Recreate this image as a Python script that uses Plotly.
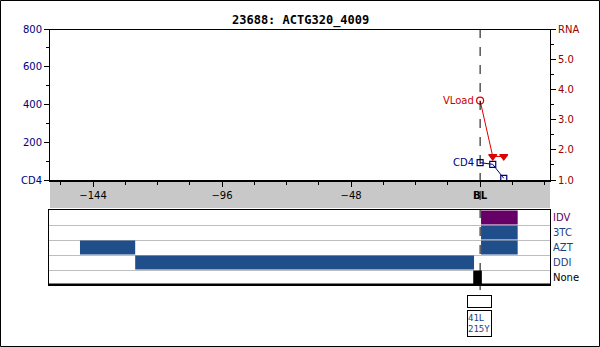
import plotly.graph_objects as go

W, H = 600, 347

# ---- data ----
title_text = "23688: ACTG320_4009"
x_ticks = [-144, -96, -48, 0]
x_ticktext = ["\u2212144", "\u221296", "\u221248", "<b>BL</b>"]

cd4_x = [0, 4.7, 8.8]
cd4_y = [92, 83, 9]

vl_x = [0, 4.7, 8.8]
vl_y = [3.63, 1.78, 1.78]
vl_symbol = ["circle-open", "triangle-down", "triangle-down"]

drug_rows = ["None", "DDI", "AZT", "3TC", "IDV"]
drug_colors = {"None": "#000000", "DDI": "#1F4E8A", "AZT": "#1F4E8A",
               "3TC": "#1F4E8A", "IDV": "#660066"}
label_colors = {"None": "#000000", "DDI": "#1F3F7F", "AZT": "#1F3F7F",
                "3TC": "#1F3F7F", "IDV": "#660066"}
seg_drug = ["AZT", "DDI", "None", "IDV", "3TC", "AZT"]
seg_start = [-148.5, -128.0, -2.5, 0.4, 0.4, 0.4]
seg_end = [-128.0, -2.2, 0.7, 14.0, 14.0, 14.0]

mutation_x = 0
mutation_text = "41L<br>215Y"


def fx(px):
    return px / W


def fy(py):
    return 1 - py / H


FONT = "DejaVu Sans"
NAVY = "#000080"
MAROON = "#990000"
RED = "#DD0000"

fig = go.Figure()

# CD4 series
fig.add_trace(go.Scatter(
    x=cd4_x, y=cd4_y, mode="lines+markers", xaxis="x", yaxis="y",
    line=dict(color=NAVY, width=1),
    marker=dict(symbol="square-open", size=6, color=NAVY, line=dict(width=1.2)),
    showlegend=False, hoverinfo="skip"))

# Viral load series
fig.add_trace(go.Scatter(
    x=vl_x, y=vl_y, mode="lines+markers", xaxis="x", yaxis="y2",
    line=dict(color=RED, width=1),
    marker=dict(symbol=vl_symbol, size=7, color=RED, line=dict(width=1.2, color=RED)),
    showlegend=False, hoverinfo="skip"))

# Treatment bars
for d, s, e in zip(seg_drug, seg_start, seg_end):
    fig.add_trace(go.Bar(
        y=[drug_rows.index(d)], x=[e - s], base=[s], orientation="h",
        xaxis="x2", yaxis="y3", width=0.92,
        marker=dict(color=drug_colors[d], line=dict(width=0)),
        showlegend=False, hoverinfo="skip"))

shapes = [
    # outer frame
    dict(type="rect", xref="paper", yref="paper", x0=fx(0.5), x1=fx(599.5),
         y0=fy(346.5), y1=fy(0.5), line=dict(color="black", width=1)),
    # grey band under the time axis
    dict(type="rect", xref="paper", yref="paper", x0=fx(50), x1=fx(550),
         y0=fy(208), y1=fy(180), fillcolor="#C8C8C8", line=dict(width=0),
         layer="below"),
    # top border of upper panel
    dict(type="line", xref="paper", yref="paper", x0=fx(50), x1=fx(550),
         y0=fy(29.5), y1=fy(29.5), line=dict(color="black", width=1)),
    # baseline dashed line
    dict(type="line", xref="x", yref="paper", x0=0, x1=0,
         y0=fy(29), y1=fy(295), line=dict(color="black", width=1, dash="dash")),
    # bottom panel thicker bottom line
    dict(type="line", xref="paper", yref="paper", x0=fx(49), x1=fx(550.5),
         y0=fy(284.5), y1=fy(284.5), line=dict(color="black", width=2)),
]

annotations = [
    dict(text="<b>" + title_text + "</b>", xref="paper", yref="paper",
         x=fx(300), y=fy(20), showarrow=False, xanchor="center", yanchor="middle",
         font=dict(family="DejaVu Sans Mono", size=12, color="black")),
    # series labels
    dict(text="CD4", xref="x", yref="y", x=cd4_x[0], y=cd4_y[0],
         xanchor="right", yanchor="middle", xshift=-4, showarrow=False,
         font=dict(family=FONT, size=10, color=NAVY)),
    dict(text="VLoad", xref="x", yref="y2", x=vl_x[0], y=vl_y[0],
         xanchor="right", yanchor="middle", xshift=-4, showarrow=False,
         font=dict(family=FONT, size=10, color="#CC0000")),
    # empty mutation box
    dict(text=" ", xref="x2", yref="paper", x=mutation_x, y=fy(295),
         xanchor="center", yanchor="top", showarrow=False, width=23, height=11,
         bordercolor="black", borderwidth=1, borderpad=0, bgcolor="white",
         font=dict(size=6)),
    # mutation list box
    dict(text=mutation_text, xref="x2", yref="paper", x=mutation_x, y=fy(310),
         xanchor="center", yanchor="top", showarrow=False, align="left",
         width=23, height=25, bordercolor="black", borderwidth=1, borderpad=0,
         bgcolor="white",
         font=dict(family="DejaVu Sans Mono", size=9, color="#1F3F7F")),
]

fig.update_layout(
    width=W, height=H, margin=dict(l=0, r=0, t=0, b=0),
    paper_bgcolor="white", plot_bgcolor="white", barmode="overlay",
    font=dict(family=FONT, size=10, color="black"),
    shapes=shapes, annotations=annotations,
    xaxis=dict(domain=[fx(50), fx(550)], range=[-160, 26], anchor="y",
               tickvals=x_ticks, ticktext=x_ticktext, ticks="outside",
               ticklen=5, tickcolor="black", tickwidth=1,
               minor=dict(dtick=12, tick0=0, ticks="outside", ticklen=3,
                          tickcolor="black", showgrid=False),
               showline=True, linecolor="black", linewidth=2,
               showgrid=False, zeroline=False, automargin=False,
               tickfont=dict(family=FONT, size=10, color="black")),
    yaxis=dict(domain=[fy(180), fy(29)], range=[0, 800], anchor="x",
               tickvals=[0, 200, 400, 600, 800],
               ticktext=["CD4", "200", "400", "600", "800"],
               ticks="outside", ticklen=5, tickcolor="black",
               minor=dict(tickvals=[100, 300, 500, 700], ticks="outside",
                          ticklen=3, tickcolor="black", showgrid=False),
               showline=True, linecolor="black", linewidth=1,
               showgrid=False, zeroline=False, automargin=False,
               tickfont=dict(family=FONT, size=10, color=NAVY)),
    yaxis2=dict(domain=[fy(180), fy(29)], range=[1, 6], anchor="x",
                overlaying="y", side="right",
                tickvals=[1, 2, 3, 4, 5, 6],
                ticktext=["1.0", "2.0", "3.0", "4.0", "5.0", "RNA"],
                ticks="outside", ticklen=5, tickcolor="black",
                minor=dict(tickvals=[1.5, 2.5, 3.5, 4.5, 5.5], ticks="outside",
                           ticklen=3, tickcolor="black", showgrid=False),
                showline=True, linecolor="black", linewidth=1,
                showgrid=False, zeroline=False, automargin=False,
                tickfont=dict(family=FONT, size=10, color=MAROON)),
    xaxis2=dict(domain=[fx(49), fx(550)], range=[-160, 26], anchor="y3",
                showticklabels=False, ticks="", showline=True, mirror=True,
                linecolor="black", linewidth=1, showgrid=False,
                zeroline=False, automargin=False),
    yaxis3=dict(domain=[fy(285), fy(210)], range=[-0.5, 4.5], anchor="x2",
                side="right", tickvals=list(range(len(drug_rows))),
                ticktext=['<span style="color:%s">%s</span>' % (label_colors[d], d)
                          for d in drug_rows],
                ticks="", showline=True, mirror=True, linecolor="black",
                linewidth=1, showgrid=False, zeroline=False, automargin=False,
                minor=dict(tickvals=[0.5, 1.5, 2.5, 3.5], showgrid=True,
                           gridcolor="#BEBEBE", gridwidth=1, ticks=""),
                tickfont=dict(family=FONT, size=10)),
)

fig.write_html("out.html")
